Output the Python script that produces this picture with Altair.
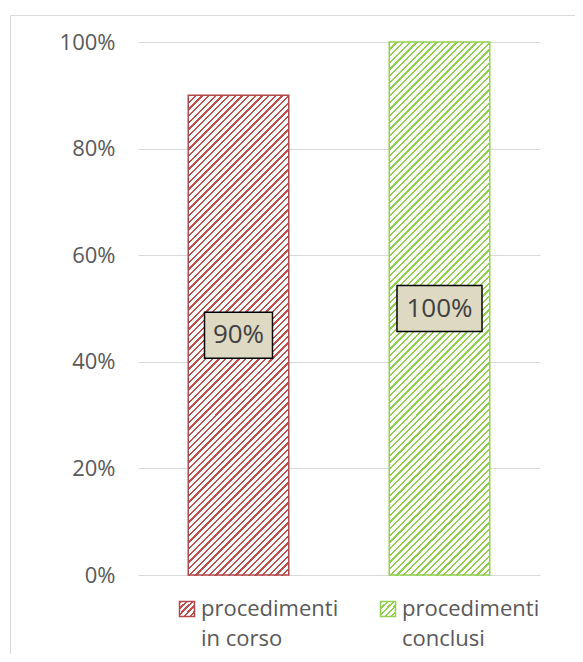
import altair as alt
import pandas as pd

# ---- data ----
categories = ["procedimenti in corso", "procedimenti conclusi"]
values = [0.90, 1.00]
value_labels = ["90%", "100%"]
legend_labels = ["procedimenti\nin corso", "procedimenti\nconclusi"]
y_ticks = [0, 0.2, 0.4, 0.6, 0.8, 1.0]

# ---- style ----
RED = "#c0504d"
RED_EDGE = "#b0474a"
GREEN = "#92d050"
GREEN_EDGE = "#92d050"
FONT = "Open Sans"
PLOT_W, PLOT_H = 402, 533
BAND_W = 100.5
SEG = 0.05           # hatch tile height (in value units)
EPS = 0.0015         # small overlap between tiles to avoid seams
PERIOD = SEG * PLOT_H / 4.0


def hatch(W, H, color, period=PERIOD, duty=0.35):
    """Linear gradient imitating an upward diagonal hatch."""
    L = W + H
    d = W * W + H * H
    x2 = W * L / d
    y2 = H * L / d
    p = period / L
    stops = []
    k = 0
    while k * p < 1:
        s = k * p
        m = s + duty * p
        e = (k + 1) * p
        stops += [
            {"offset": round(min(s, 1), 5), "color": color},
            {"offset": round(min(m, 1), 5), "color": color},
            {"offset": round(min(m, 1), 5), "color": "#ffffff"},
            {"offset": round(min(e, 1), 5), "color": "#ffffff"},
        ]
        k += 1
    return {"gradient": "linear", "x1": 0, "y1": 0, "x2": x2, "y2": y2, "stops": stops}


def box_path(label, r=42.5, h=23.0):
    hw = (17 * len(label) + 17) / 2.0
    a = hw / r
    b = h / r
    return f"M{-a},{-b}L{a},{-b}L{a},{b}L{-a},{b}Z"


df = pd.DataFrame({
    "cat": categories,
    "value": values,
    "label": value_labels,
    "legend": legend_labels,
})
df["mid"] = df["value"] / 2

# hatch tiles: each bar split into equal slices of its own height
tiles = []
for c, v in zip(categories, values):
    n = int(round(v / SEG))
    for i in range(n):
        top = v - i * SEG
        tiles.append({"cat": c, "top": top, "bot": top - SEG - EPS})
tiles = pd.DataFrame(tiles)

test_first = f"datum.cat === '{categories[0]}'"
TILE_H = (SEG + EPS) * PLOT_H

x_enc = alt.X("cat:N", sort=categories,
              scale=alt.Scale(domain=categories, paddingInner=0.5, paddingOuter=0.25),
              axis=None)
y_scale = alt.Scale(domain=[0, 1])
stroke_enc = alt.Stroke("cat:N", scale=alt.Scale(domain=categories, range=[RED_EDGE, GREEN_EDGE]),
                        legend=None)

base = alt.Chart(df)

border = alt.Chart(pd.DataFrame({"a": [0]})).mark_rect(
    filled=False, stroke="#d9d9d9", strokeWidth=1
).encode(
    x=alt.value(-127.5), x2=alt.value(470), y=alt.value(-26.5), y2=alt.value(640)
)

hatch_tiles = alt.Chart(tiles).mark_bar(strokeWidth=0).encode(
    x=x_enc,
    y=alt.Y("top:Q", scale=y_scale,
            axis=alt.Axis(values=y_ticks, format=".0%", title=None, domain=False, ticks=False,
                          labelFont=FONT, labelFontSize=22, labelColor="#595959",
                          labelPadding=23, gridColor="#d9d9d9", gridWidth=1)),
    y2="bot:Q",
    fill=alt.condition(test_first,
                       alt.value(hatch(BAND_W, TILE_H, RED)),
                       alt.value(hatch(BAND_W, TILE_H, GREEN))),
)

outline = base.mark_bar(strokeWidth=1.5, fillOpacity=0, fill="white").encode(
    x=x_enc,
    y=alt.Y("value:Q", scale=y_scale),
    stroke=stroke_enc,
)

boxes = base.mark_point(filled=True, fill="#ddd9c3", stroke="black", strokeWidth=1.5,
                        opacity=1, size=7225).encode(
    x=x_enc,
    y=alt.Y("mid:Q", scale=y_scale),
    shape=alt.Shape("label:N", scale=alt.Scale(domain=value_labels,
                                               range=[box_path(l) for l in value_labels]),
                    legend=None),
)

texts = base.mark_text(font=FONT, fontSize=26, color="#404040", baseline="middle").encode(
    x=x_enc,
    y=alt.Y("mid:Q", scale=y_scale),
    text="label:N",
)

leg_sym = base.mark_point(shape="square", size=225, filled=True, opacity=1, strokeWidth=1.5,
                          xOffset=-51.5).encode(
    x=x_enc,
    y=alt.value(567),
    fill=alt.condition(test_first,
                       alt.value(hatch(15, 15, RED, period=6.0)),
                       alt.value(hatch(15, 15, GREEN, period=6.0))),
    stroke=stroke_enc,
)

leg_txt = base.mark_text(align="left", baseline="alphabetic", dx=-37.5, font=FONT,
                         fontSize=22, color="#595959", lineBreak="\n", lineHeight=30).encode(
    x=x_enc,
    y=alt.value(574),
    text="legend:N",
)

chart = alt.layer(border, hatch_tiles, outline, boxes, texts, leg_sym, leg_txt).properties(
    width=PLOT_W,
    height=PLOT_H,
    autosize=alt.AutoSizeParams(type="none"),
    padding={"left": 130, "top": 34, "right": 35, "bottom": 79},
    background="white",
).configure_view(stroke=None)

chart.save("out.html", embed_options={"renderer": "svg", "actions": False})
